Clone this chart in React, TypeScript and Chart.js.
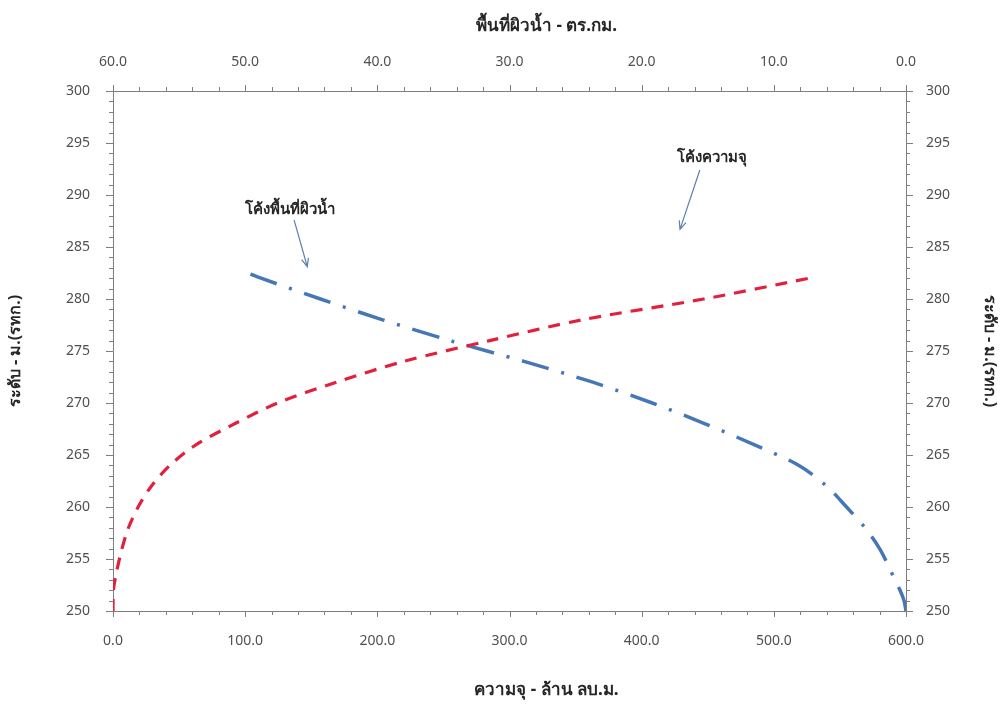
import React, { useEffect, useRef } from 'react';
import { Chart, registerables } from 'chart.js';

Chart.register(...registerables);

// Capacity curve (bottom axis, million m³) vs elevation (m MSL)
const capElev = [250, 252, 254, 256, 258, 260, 262, 264, 266, 268, 270, 272, 274, 276, 278, 280, 282];
const capacity = [0, 0.3, 3.1, 6.8, 11.7, 19, 29, 43, 63, 92, 124.5, 169, 220, 285, 355, 447, 527];

// Surface area curve (top axis, km²) vs elevation (m MSL), listed from the top end down
const areaElev = [282.4, 282, 280, 278, 276, 274, 272, 270, 268, 266, 264, 262, 260, 258, 256, 254, 253, 252, 251, 250];
const area = [49.6, 48.8, 44.3, 39.6, 34.5, 28.9, 23.7, 19.2, 15.2, 11.5, 8.1, 6.0, 4.5, 3.1, 2.0, 1.2, 0.85, 0.45, 0.15, 0];

const titleBottom = 'ความจุ - ล้าน ลบ.ม.';
const titleTop = 'พื้นที่ผิวน้ำ - ตร.กม.';
const titleLeft = 'ระดับ - ม.(รทก.)';
const titleRight = 'ระดับ - ม.(รทก.)';
const labelArea = 'โค้งพื้นที่ผิวน้ำ';
const labelCap = 'โค้งความจุ';

const FONT = "'Noto Sans', 'DejaVu Sans', sans-serif";

const tickMarks = {
  id: 'tickMarks',
  afterDraw(chart: any) {
    const { ctx, scales } = chart;
    const x = scales.x, x2 = scales.x2, y = scales.y, y2 = scales.y2;
    ctx.save();
    ctx.strokeStyle = '#7f7f7f';
    ctx.lineWidth = 1;
    ctx.beginPath();
    for (let v = 250; v <= 300; v += 1) {
      const major = v % 5 === 0;
      const py = Math.round(y.getPixelForValue(v)) + 0.5;
      const len = major ? 7 : 4;
      ctx.moveTo(y.right - len, py);
      ctx.lineTo(y.right, py);
      ctx.moveTo(y2.left, py);
      ctx.lineTo(y2.left + len, py);
    }
    for (let v = 0; v <= 600; v += 20) {
      const px = Math.round(x.getPixelForValue(v)) + 0.5;
      const len = v % 100 === 0 ? 6 : 4;
      ctx.moveTo(px, x.top);
      ctx.lineTo(px, x.top + len);
    }
    for (let v = 0; v <= 60; v += 2) {
      const px = Math.round(x2.getPixelForValue(v)) + 0.5;
      const len = v % 10 === 0 ? 6 : 4;
      ctx.moveTo(px, x2.bottom);
      ctx.lineTo(px, x2.bottom - len);
    }
    ctx.stroke();

    // horizontal axis titles (slightly right of centre, as in the source)
    const cx = (x.left + x.right) / 2 + 37;
    ctx.fillStyle = '#262626';
    ctx.font = `bold 17px ${FONT}`;
    ctx.textAlign = 'center';
    ctx.textBaseline = 'middle';
    ctx.fillText(titleTop, cx, x2.top + 26);
    ctx.fillText(titleBottom, cx, x.bottom - 18);

    // annotations (anchored in data coordinates of the bottom/left scales)
    const drawArrow = (ax: number, ay: number, bx: number, by: number) => {
      const x1 = x.getPixelForValue(ax), y1 = y.getPixelForValue(ay);
      const xe = x.getPixelForValue(bx), ye = y.getPixelForValue(by);
      const ang = Math.atan2(ye - y1, xe - x1);
      ctx.strokeStyle = '#5b80ad';
      ctx.lineWidth = 1.2;
      ctx.beginPath();
      ctx.moveTo(x1, y1);
      ctx.lineTo(xe, ye);
      const h = 9, a = 0.4;
      ctx.moveTo(xe - h * Math.cos(ang - a), ye - h * Math.sin(ang - a));
      ctx.lineTo(xe, ye);
      ctx.lineTo(xe - h * Math.cos(ang + a), ye - h * Math.sin(ang + a));
      ctx.stroke();
    };
    ctx.fillStyle = '#262626';
    ctx.font = `bold 15px ${FONT}`;
    ctx.fillText(labelArea, x.getPixelForValue(134), y.getPixelForValue(288.6));
    ctx.fillText(labelCap, x.getPixelForValue(453), y.getPixelForValue(293.6));
    drawArrow(137, 287.6, 147, 283.1);
    drawArrow(444, 292.4, 429, 286.7);
    ctx.restore();
  },
};

export default function App() {
  const ref = useRef<HTMLCanvasElement>(null);
  useEffect(() => {
    const capData = capElev.map((e, i) => ({ x: capacity[i], y: e }));
    const areaData = areaElev.map((e, i) => ({ x: area[i], y: e }));
    const tickFont = { family: FONT, size: 14 };
    const titleFont = { family: FONT, size: 16, weight: 'bold' as const };
    const tickColor = '#505050';
    const chart = new Chart(ref.current!, {
      type: 'scatter',
      data: {
        datasets: [
          {
            label: 'capacity',
            data: capData,
            xAxisID: 'x',
            yAxisID: 'y',
            showLine: true,
            borderColor: '#e3203c',
            borderWidth: 3.2,
            borderDash: [12, 9],
            pointRadius: 0,
            tension: 0.3,
          },
          {
            label: 'area',
            data: areaData,
            xAxisID: 'x2',
            yAxisID: 'y',
            showLine: true,
            borderColor: '#4677b5',
            borderWidth: 3.5,
            borderDash: [28, 13, 3, 13],
            pointRadius: 0,
            tension: 0.3,
          },
        ],
      },
      options: {
        responsive: false,
        animation: false,
        layout: { padding: 0 },
        plugins: { legend: { display: false }, tooltip: { enabled: false } },
        scales: {
          x: {
            type: 'linear',
            position: 'bottom',
            min: 0,
            max: 600,
            grid: { display: false },
            border: { display: true, color: '#7f7f7f' },
            ticks: { stepSize: 100, padding: 14, color: tickColor, font: tickFont, callback: (v: any) => Number(v).toFixed(1) },
            title: { display: false, text: titleBottom },
            afterFit: (s: any) => { s.height = 97; },
          },
          x2: {
            type: 'linear',
            position: 'top',
            min: 0,
            max: 60,
            reverse: true,
            grid: { display: false },
            border: { display: true, color: '#7f7f7f' },
            ticks: { stepSize: 10, padding: 13, color: tickColor, font: tickFont, callback: (v: any) => Number(v).toFixed(1) },
            title: { display: false, text: titleTop },
            afterFit: (s: any) => { s.height = 91; },
          },
          y: {
            type: 'linear',
            position: 'left',
            min: 250,
            max: 300,
            grid: { display: false },
            border: { display: true, color: '#7f7f7f' },
            ticks: { stepSize: 5, padding: 15, color: tickColor, font: tickFont },
            title: { display: true, text: titleLeft, color: '#262626', font: titleFont, padding: { top: 6 } },
            afterFit: (s: any) => { s.width = 113; },
          },
          y2: {
            type: 'linear',
            position: 'right',
            min: 250,
            max: 300,
            grid: { display: false },
            border: { display: true, color: '#7f7f7f' },
            ticks: { stepSize: 5, padding: 12, color: tickColor, font: tickFont },
            title: { display: true, text: titleRight, color: '#262626', font: titleFont, padding: { top: 6 } },
            afterFit: (s: any) => { s.width = 99; },
          },
        },
      },
      plugins: [tickMarks],
    } as any);
    return () => chart.destroy();
  }, []);
  return (
    <div style={{ position: 'absolute', left: 0, top: 0, width: 1005, height: 708, background: '#fff' }}>
      <canvas ref={ref} width={1005} height={708} style={{ display: 'block' }} />
    </div>
  );
}
